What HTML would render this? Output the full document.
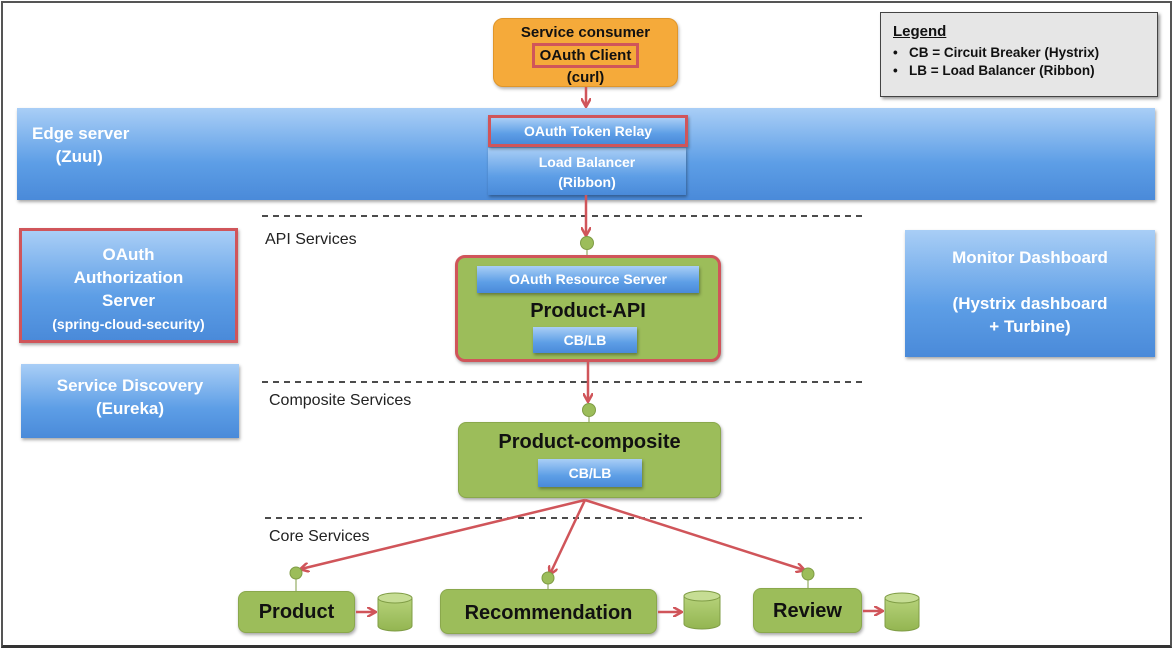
<!DOCTYPE html>
<html><head><meta charset="utf-8"><style>
*{box-sizing:border-box;margin:0;padding:0}
body{width:1173px;height:650px;background:#fff;position:relative;overflow:hidden;font-family:"Liberation Sans",sans-serif}
.a{position:absolute}
.blue{background:linear-gradient(#a9cef6,#5d9ee6 60%,#4a8ad9);box-shadow:1px 2px 3px rgba(0,0,0,.35);color:#fff;font-weight:bold;text-align:center}
.green{background:#9cbd5a;border-radius:8px;box-shadow:1px 2px 3px rgba(0,0,0,.35);border:1px solid #8aa84c;font-weight:bold;color:#111;text-align:center}
.lbl{font-size:16px;color:#222}
</style></head><body>
<div class="a" style="left:1px;top:1px;width:1171px;height:647px;border:2px solid #555;border-bottom:3px solid #333"></div>

<div class="a" style="left:493px;top:18px;width:185px;height:69px;background:#f5aa3a;border:1px solid #e0962a;border-radius:10px;box-shadow:1px 2px 3px rgba(0,0,0,.3);text-align:center;font-weight:bold;font-size:15px;color:#111;line-height:20px;padding-top:4px">Service consumer<br><span style="display:inline-block;border:3px solid #d0555a;padding:0 5px;line-height:19px">OAuth Client</span><br>(curl)</div>

<div class="a" style="left:880px;top:12px;width:278px;height:85px;background:#e6e6e6;border:1px solid #444;box-shadow:2px 2px 3px rgba(0,0,0,.4);padding:10px 12px;font-weight:bold;font-size:13.5px;color:#111;line-height:18px">
<div style="text-decoration:underline;font-size:15px;margin-bottom:3px">Legend</div>
<div>•&nbsp;&nbsp;&nbsp;CB = Circuit Breaker (Hystrix)</div>
<div>•&nbsp;&nbsp;&nbsp;LB = Load Balancer (Ribbon)</div></div>

<div class="a blue" style="left:17px;top:108px;width:1138px;height:92px;text-align:left;font-size:17px;line-height:23px;padding:14px 0 0 15px">Edge server<br>&nbsp;&nbsp;&nbsp;&nbsp;&nbsp;(Zuul)</div>
<div class="a blue" style="left:488px;top:148px;width:198px;height:47px;font-size:14px;line-height:20px;padding-top:4px">Load Balancer<br>(Ribbon)</div>
<div class="a blue" style="left:488px;top:115px;width:200px;height:32px;border:3px solid #d0555a;font-size:14px;line-height:26px">OAuth Token Relay</div>

<div class="a blue" style="left:19px;top:228px;width:219px;height:115px;border:3px solid #d0555a;font-size:17px;line-height:23px;padding-top:12px">OAuth<br>Authorization<br>Server<br><span style="font-size:14px">(spring-cloud-security)</span></div>
<div class="a blue" style="left:21px;top:364px;width:218px;height:74px;font-size:17px;line-height:23px;padding-top:10px">Service Discovery<br>(Eureka)</div>
<div class="a blue" style="left:905px;top:230px;width:250px;height:127px;font-size:17px;line-height:23px;padding-top:16px">Monitor Dashboard<br><br>(Hystrix dashboard<br>+ Turbine)</div>

<div class="a lbl" style="left:265px;top:231px">API Services</div>
<div class="a lbl" style="left:269px;top:392px">Composite Services</div>
<div class="a lbl" style="left:269px;top:528px">Core Services</div>

<div class="a green" style="left:455px;top:255px;width:266px;height:107px;border:3px solid #d0555a;border-radius:10px;font-size:20px;padding-top:42px">Product-API</div>
<div class="a blue" style="left:477px;top:266px;width:222px;height:27px;font-size:14px;line-height:27px">OAuth Resource Server</div>
<div class="a blue" style="left:533px;top:327px;width:104px;height:26px;font-size:14px;line-height:26px">CB/LB</div>

<div class="a green" style="left:458px;top:422px;width:263px;height:76px;font-size:20px;padding-top:8px">Product-composite</div>
<div class="a blue" style="left:538px;top:459px;width:104px;height:28px;font-size:14px;line-height:28px">CB/LB</div>

<div class="a green" style="left:238px;top:591px;width:117px;height:42px;font-size:20px;line-height:40px">Product</div>
<div class="a green" style="left:440px;top:589px;width:217px;height:45px;font-size:20px;line-height:46px">Recommendation</div>
<div class="a green" style="left:753px;top:588px;width:109px;height:45px;font-size:20px;line-height:44px">Review</div>

<svg class="a" style="left:0;top:0" width="1173" height="650">
<defs><marker id="ar" markerWidth="10" markerHeight="10" refX="8" refY="5" orient="auto" markerUnits="userSpaceOnUse"><path d="M0,0 L9,5 L0,10" fill="none" stroke="#d0555a" stroke-width="2.5"/></marker>
<linearGradient id="cy" x1="0" x2="0" y1="0" y2="1"><stop offset="0" stop-color="#b6d27a"/><stop offset="1" stop-color="#93b551"/></linearGradient></defs>
<g stroke="#111" stroke-width="1.5" stroke-dasharray="6,5">
<line x1="262" y1="216" x2="865" y2="216"/><line x1="262" y1="382" x2="865" y2="382"/><line x1="265" y1="518" x2="862" y2="518"/></g>
<g stroke="#d0555a" stroke-width="2.5" fill="none" marker-end="url(#ar)">
<line x1="586" y1="87" x2="586" y2="106"/>
<line x1="586" y1="195" x2="586" y2="235"/>
<line x1="588" y1="362" x2="588" y2="401"/>
<line x1="585" y1="500" x2="301" y2="569"/>
<line x1="585" y1="500" x2="550" y2="574"/>
<line x1="585" y1="500" x2="804" y2="570"/>
<line x1="356" y1="612" x2="375" y2="612"/>
<line x1="658" y1="612" x2="681" y2="612"/>
<line x1="863" y1="611" x2="882" y2="611"/>
</g>
<g fill="#9cbd5a" stroke="#7f9c45" stroke-width="1">
<line x1="587" y1="243" x2="587" y2="255"/><circle cx="587" cy="243" r="6.5"/>
<line x1="589" y1="410" x2="589" y2="422"/><circle cx="589" cy="410" r="6.5"/>
<line x1="296" y1="573" x2="296" y2="591"/><circle cx="296" cy="573" r="6"/>
<line x1="548" y1="578" x2="548" y2="589"/><circle cx="548" cy="578" r="6"/>
<line x1="808" y1="574" x2="808" y2="588"/><circle cx="808" cy="574" r="6"/>
</g>
<g fill="url(#cy)" stroke="#7f9c45" stroke-width="1">
<path d="M378,598 v28 a17,5 0 0 0 34,0 v-28"/><ellipse cx="395" cy="598" rx="17" ry="5" fill="#c6dd94"/>
<path d="M684,596 v28 a18,5 0 0 0 36,0 v-28"/><ellipse cx="702" cy="596" rx="18" ry="5" fill="#c6dd94"/>
<path d="M885,598 v28 a17,5 0 0 0 34,0 v-28"/><ellipse cx="902" cy="598" rx="17" ry="5" fill="#c6dd94"/>
</g>
</svg>
</body></html>
